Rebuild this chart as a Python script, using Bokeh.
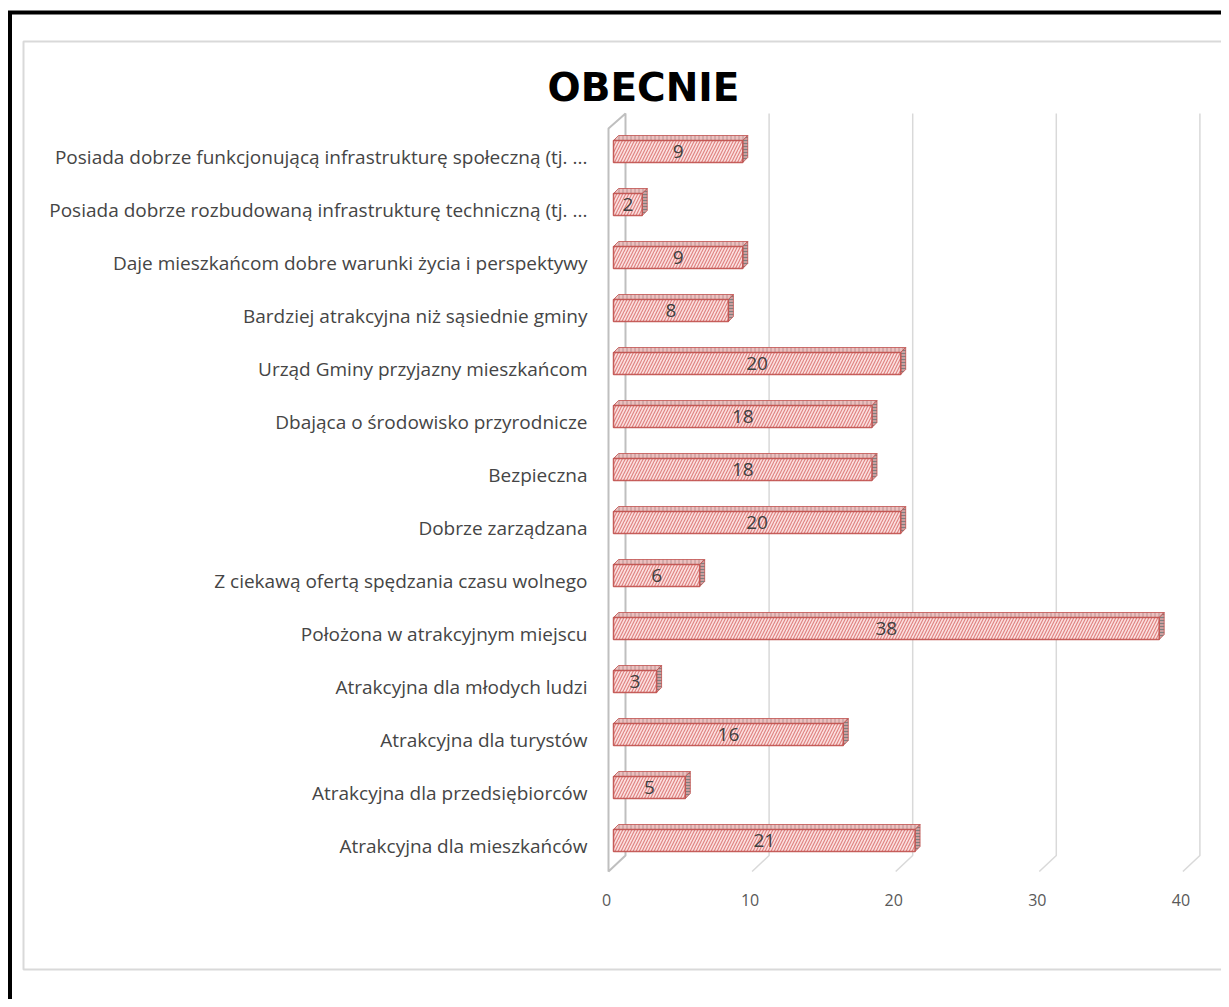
from bokeh.plotting import figure
from bokeh.models import ColumnDataSource, Range1d
from bokeh.core.properties import value
from bokeh.embed import file_html
from bokeh.resources import INLINE

# ---------------- data ----------------
title_text = "OBECNIE"
categories = [
    "Posiada dobrze funkcjonującą infrastrukturę społeczną (tj. ...",
    "Posiada dobrze rozbudowaną infrastrukturę techniczną (tj. ...",
    "Daje mieszkańcom dobre warunki życia i perspektywy",
    "Bardziej atrakcyjna niż sąsiednie gminy",
    "Urząd Gminy przyjazny mieszkańcom",
    "Dbająca o środowisko przyrodnicze",
    "Bezpieczna",
    "Dobrze zarządzana",
    "Z ciekawą ofertą spędzania czasu wolnego",
    "Położona w atrakcyjnym miejscu",
    "Atrakcyjna dla młodych ludzi",
    "Atrakcyjna dla turystów",
    "Atrakcyjna dla przedsiębiorców",
    "Atrakcyjna dla mieszkańców",
]
values = [9, 2, 9, 8, 20, 18, 18, 20, 6, 38, 3, 16, 5, 21]
ticks = [0, 10, 20, 30, 40]
tick_labels = ["0", "10", "20", "30", "40"]

# ---------------- geometry (pixel helpers) ----------------
W, H = 1221, 999           # canvas size
OX, OY = 0, 0              # picture offset of canvas
X0, SX = 613.0, 14.36      # picture x of value 0 on bar front face, px per unit
Y0, SY = 151.0, 53.0       # picture y of first bar centre, px per slot


def dx(px):
    return px / SX


def dy(px):
    return px / SY


def X(img_x):
    return (img_x - X0) / SX


def Y(img_y):
    return (img_y - Y0) / SY


p = figure(width=W, height=H, output_backend="svg", toolbar_location=None,
           x_axis_type=None, y_axis_type=None,
           x_range=Range1d(X(OX), X(OX + W)),
           y_range=Range1d(Y(OY + H), Y(OY)),
           min_border=0, min_border_left=0, min_border_right=0,
           min_border_top=0, min_border_bottom=0)
p.outline_line_color = None
p.xgrid.visible = False
p.ygrid.visible = False
p.background_fill_color = "white"
p.border_fill_color = "white"

# ---------------- decorations ----------------
# outer black frame (left and top)
p.line(x=[X(9.5), X(9.5)], y=[Y(1010), Y(12)], line_color="black", line_width=4)
p.line(x=[X(7.5), X(1235)], y=[Y(12), Y(12)], line_color="black", line_width=4)
# inner light grey box
p.line(x=[X(1235), X(23), X(23), X(1235)], y=[Y(41), Y(41), Y(969), Y(969)],
       line_color="#d9d9d9", line_width=2)

# 3D geometry offsets
front_off = dx(-5)     # floor front edge relative to bar face
back_off = dx(12)      # back wall relative to bar face
wall_top, wall_bot = Y(113), Y(855)
front_top, front_bot = Y(128), Y(871)

# back-wall gridlines with slanted floor part
for t in ticks[1:]:
    p.line(x=[t + back_off, t + back_off, t + front_off],
           y=[wall_top, wall_bot, front_bot],
           line_color="#d9d9d9", line_width=1.5)
# left side wall
p.patch(x=[front_off, back_off, back_off, front_off],
        y=[front_top, wall_top, wall_bot, front_bot],
        fill_color="white", line_color="#bfbfbf", line_width=2)

# ---------------- bars ----------------
n = len(values)
idx = list(range(n))
half = dy(11)
ddx, ddy = dx(5), dy(5)

src = ColumnDataSource(dict(
    y=idx, v=values, cat=categories,
    top=[i - half for i in idx], bottom=[i + half for i in idx],
    mid=[v / 2 for v in values],
    lab=[str(v) for v in values],
))

# top faces
top_xs = [[0, v, v + ddx, ddx] for v in values]
top_ys = [[i - half, i - half, i - half - ddy, i - half - ddy] for i in idx]
p.patches(xs=top_xs, ys=top_ys, fill_color="#ecc0bf", line_color="#c0504d",
          line_width=1, line_alpha=0.8, hatch_pattern="|", hatch_color="#a08080",
          hatch_scale=4, hatch_weight=1, hatch_alpha=0.7)
# right faces
side_xs = [[v, v + ddx, v + ddx, v] for v in values]
side_ys = [[i - half, i - half - ddy, i + half - ddy, i + half] for i in idx]
p.patches(xs=side_xs, ys=side_ys, fill_color="#c9a0a0", line_color="#c0504d",
          line_width=1, line_alpha=0.8, hatch_pattern="-", hatch_color="#7f7f7f",
          hatch_scale=3, hatch_weight=1)
# front faces
p.quad(left=0, right="v", top="top", bottom="bottom", source=src,
       fill_color="#fbe0e0", line_color="#c0504d", line_width=1.5, line_alpha=0.9,
       hatch_pattern="/", hatch_color="#dd7a78", hatch_scale=6,
       hatch_weight=1.2, hatch_alpha=0.9)

# value labels
p.text(x="mid", y="y", text="lab", source=src, text_align="center",
       text_baseline="middle", text_font=value("Open Sans"),
       text_font_size="19px", text_color="#404040")

# category labels
p.text(x=X(587), y="y", text="cat", source=src, text_align="right",
       text_baseline="middle", y_offset=5, text_font=value("Open Sans"),
       text_font_size="19px", text_color="#454545")

# tick labels
tick_src = ColumnDataSource(dict(x=[t + front_off for t in ticks], lab=tick_labels))
p.text(x="x", y=Y(899), text="lab", source=tick_src, text_align="center",
       text_baseline="middle", x_offset=-2, text_font=value("Open Sans"),
       text_font_size="16px", text_color="#595959")

# title
p.text(x=[X(643)], y=[Y(87)], text=[title_text], text_align="center",
       text_baseline="middle", text_font=value("DejaVu Sans"),
       text_font_size="39px", text_font_style="bold", text_color="black")

open("out.html", "w").write(file_html(p, INLINE))
